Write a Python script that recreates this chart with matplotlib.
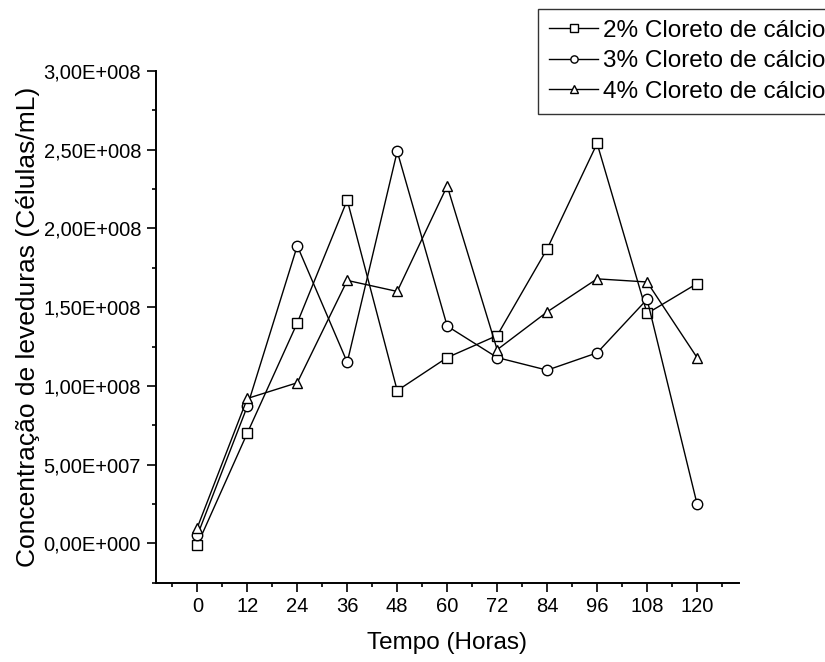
import numpy as np
import matplotlib
matplotlib.use("Agg")
import matplotlib.pyplot as plt
from matplotlib.ticker import FuncFormatter, MultipleLocator

plt.rcParams['font.family'] = ['Liberation Sans', 'DejaVu Sans']

# --- data ---
hours = [0, 12, 24, 36, 48, 60, 72, 84, 96, 108, 120]
cacl2_2 = [-0.01e8, 0.70e8, 1.40e8, 2.18e8, 0.97e8, 1.18e8, 1.32e8, 1.87e8, 2.54e8, 1.46e8, 1.65e8]
cacl2_3 = [0.05e8, 0.87e8, 1.89e8, 1.15e8, 2.49e8, 1.38e8, 1.18e8, 1.10e8, 1.21e8, 1.55e8, 0.25e8]
cacl2_4 = [0.10e8, 0.92e8, 1.02e8, 1.67e8, 1.60e8, 2.27e8, 1.23e8, 1.47e8, 1.68e8, 1.66e8, 1.18e8]
labels = ['2% Cloreto de cálcio', '3% Cloreto de cálcio', '4% Cloreto de cálcio']
markers = ['s', 'o', '^']


def sci_comma(v, pos):
    # Origin-style label: 2,50E+008
    if v == 0:
        return '0,00E+000'
    exp = int(np.floor(np.log10(abs(v))))
    mant = v / 10 ** exp
    return f'{mant:.2f}'.replace('.', ',') + f'E+{exp:03d}'


fig = plt.figure(figsize=(8.25, 6.62), dpi=100)
ax = fig.add_axes([0.1887, 0.1198, 0.7067, 0.7729])

for ys, m, lab in zip([cacl2_2, cacl2_3, cacl2_4], markers, labels):
    ax.plot(hours, ys, color='black', lw=1.0, marker=m, markersize=7.5,
            markerfacecolor='white', markeredgecolor='black', markeredgewidth=1.0,
            label=lab)

ax.set_xlim(-10, 130)
ax.set_ylim(-2.5e7, 3e8)
ax.set_xticks(hours)
ax.xaxis.set_minor_locator(MultipleLocator(6))
ax.yaxis.set_major_locator(MultipleLocator(5e7))
ax.yaxis.set_minor_locator(MultipleLocator(2.5e7))
ax.yaxis.set_major_formatter(FuncFormatter(sci_comma))

ax.spines['top'].set_visible(False)
ax.spines['right'].set_visible(False)
for s in ['left', 'bottom']:
    ax.spines[s].set_linewidth(1.4)

ax.tick_params(which='major', length=6.5, width=1.2, labelsize=14.5, pad=4)
ax.tick_params(which='minor', length=3, width=1.2)

ax.set_xlabel('Tempo (Horas)', fontsize=17.5, labelpad=11)
ax.set_ylabel('Concentração de leveduras (Células/mL)', fontsize=19)
ax.yaxis.set_label_coords(-0.198, 0.5)

# box runs off the right edge of the figure, as in the original
leg = fig.legend(loc='upper right', bbox_to_anchor=(1.0 + 11 / 825, 1 - 9 / 662),
                 fontsize=17.5, frameon=True, fancybox=False, markerscale=0.7,
                 handlelength=2.0, handletextpad=0.2, labelspacing=0.35,
                 borderpad=0.45, borderaxespad=0.0)
leg.get_frame().set_edgecolor('black')
leg.get_frame().set_linewidth(1.0)

fig.savefig('out.png', dpi=100)
